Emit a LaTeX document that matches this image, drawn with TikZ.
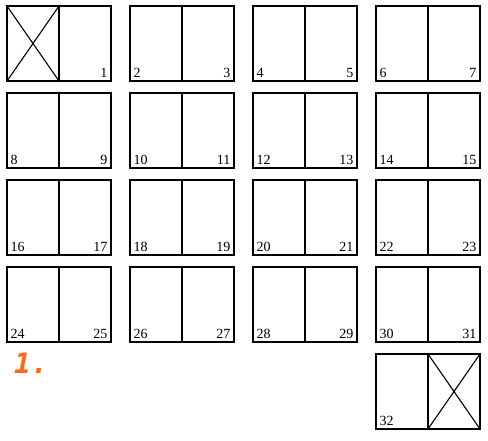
\documentclass[tikz,border=0pt]{standalone}
\usepackage{fontspec}
\setmainfont{Liberation Serif}
\newfontfamily\tagfont{DejaVu Sans Mono}
\usepackage{tikz}
\usetikzlibrary{positioning}
\definecolor{tagorange}{HTML}{FF6A10}
\newcommand{\pnum}{\fontsize{14}{14}\selectfont}
\tikzset{
  page/.style={draw, line width=1.2pt, minimum width=52pt, minimum height=75pt, inner sep=0pt, outer sep=0pt},
  lnum/.style={label={[anchor=south west, inner sep=3.5pt, font=\pnum]south west:#1}},
  rnum/.style={label={[anchor=south east, inner sep=3.5pt, font=\pnum]south east:#1}},
  crossed/.style={line width=1.1pt},
}

\begin{document}
\begin{tikzpicture}[node distance=52pt, on grid]
				\useasboundingbox (0,0) rectangle (488pt,-440pt);
				% row 1
				\node[page] (p0) at (33pt,-43.5pt) {};
				\node[page, rnum=1] (p1) [right=of p0] {};
				\node[page, lnum=2] (p2) [right=123pt of p0] {};
				\node[page, rnum=3] (p3) [right=of p2] {};
				\node[page, lnum=4] (p4) [right=123pt of p2] {};
				\node[page, rnum=5] (p5) [right=of p4] {};
				\node[page, lnum=6] (p6) [right=123pt of p4] {};
				\node[page, rnum=7] (p7) [right=of p6] {};
				% row 2
				\node[page, lnum=8] (p8) [below=87pt of p0] {};
				\node[page, rnum=9] (p9) [right=of p8] {};
				\node[page, lnum=10] (p10) [right=123pt of p8] {};
				\node[page, rnum=11] (p11) [right=of p10] {};
				\node[page, lnum=12] (p12) [right=123pt of p10] {};
				\node[page, rnum=13] (p13) [right=of p12] {};
				\node[page, lnum=14] (p14) [right=123pt of p12] {};
				\node[page, rnum=15] (p15) [right=of p14] {};
				% row 3
				\node[page, lnum=16] (p16) [below=87pt of p8] {};
				\node[page, rnum=17] (p17) [right=of p16] {};
				\node[page, lnum=18] (p18) [right=123pt of p16] {};
				\node[page, rnum=19] (p19) [right=of p18] {};
				\node[page, lnum=20] (p20) [right=123pt of p18] {};
				\node[page, rnum=21] (p21) [right=of p20] {};
				\node[page, lnum=22] (p22) [right=123pt of p20] {};
				\node[page, rnum=23] (p23) [right=of p22] {};
				% row 4
				\node[page, lnum=24] (p24) [below=87pt of p16] {};
				\node[page, rnum=25] (p25) [right=of p24] {};
				\node[page, lnum=26] (p26) [right=123pt of p24] {};
				\node[page, rnum=27] (p27) [right=of p26] {};
				\node[page, lnum=28] (p28) [right=123pt of p26] {};
				\node[page, rnum=29] (p29) [right=of p28] {};
				\node[page, lnum=30] (p30) [right=123pt of p28] {};
				\node[page, rnum=31] (p31) [right=of p30] {};
				% last sheet
				\node[page, lnum=32] (p32) [below=87pt of p30] {};
				\node[page] (p33) [right=of p32] {};
				% blank covers
				\draw[crossed] (p0.north west) -- (p0.south east) (p0.south west) -- (p0.north east);
				\draw[crossed] (p33.north west) -- (p33.south east) (p33.south west) -- (p33.north east);
				\node[anchor=base west, inner sep=0pt, text=tagorange, font=\tagfont\bfseries\itshape\fontsize{28}{28}\selectfont] (tag) at (14pt,-373pt) {1.};
			\end{tikzpicture}
\end{document}
